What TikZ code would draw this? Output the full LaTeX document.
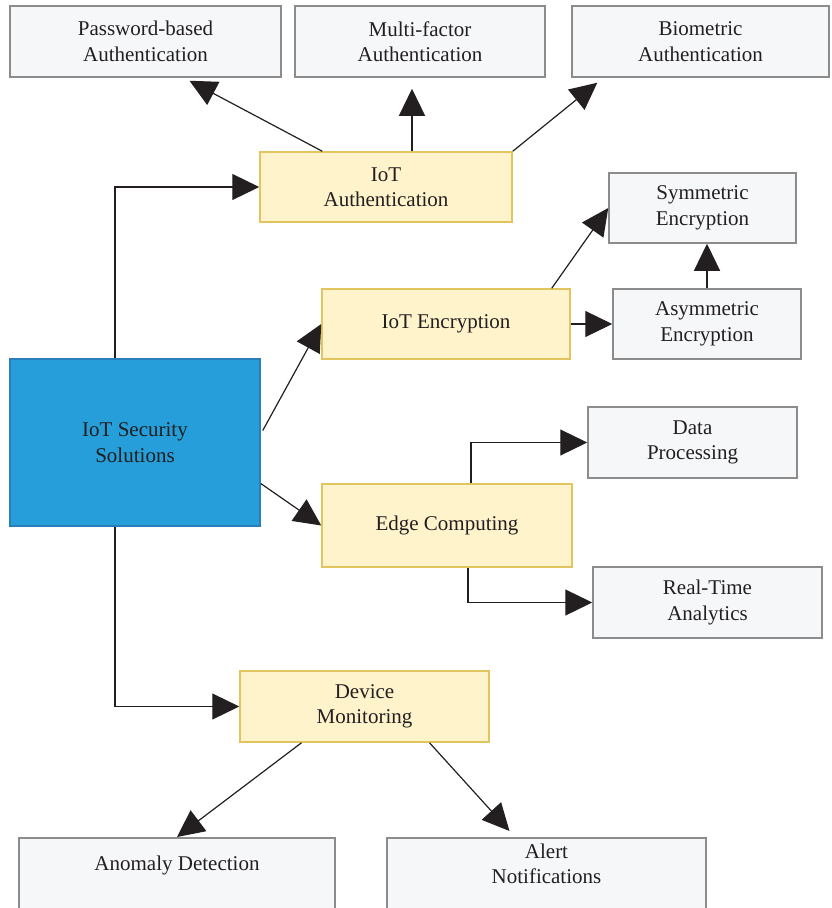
\documentclass[tikz,border=0pt]{standalone}
\usepackage{fontspec}
\setmainfont{Liberation Serif}
\usetikzlibrary{arrows.meta}
\definecolor{inkc}{HTML}{231F20}
\definecolor{grayfill}{HTML}{F6F7F9}
\definecolor{grayline}{HTML}{8C8C8C}
\definecolor{yelfill}{HTML}{FFF3CB}
\definecolor{yelline}{HTML}{E3C560}
\definecolor{bluefill}{HTML}{259ED9}
\definecolor{blueline}{HTML}{2A7FB8}
\begin{document}
\begin{tikzpicture}[x=1pt,y=-1pt,
		every node/.style={font=\fontsize{21}{25.5}\selectfont, text=inkc, align=center},
		gbox/.style={draw=grayline, fill=grayfill, line width=1.5pt, minimum height=71pt},
		ybox/.style={draw=yelline, fill=yelfill, line width=1.5pt, minimum height=70pt},
		cutbox/.style={gbox, anchor=north, text depth=80pt},
		link/.style={draw=inkc, line width=1.2pt, -{Triangle[length=27pt,width=26pt]}}]
	\useasboundingbox (0,0) rectangle (831,908);
	\clip (0,0) rectangle (831,908);
	% centre
	\node[draw=blueline, fill=bluefill, line width=1.5pt, minimum width=250pt, minimum height=167pt] (sol) at (135,442.5) {IoT Security\\Solutions};
	% authentication
	\node[ybox, minimum width=252pt] (auth) at (386,187) {IoT\\Authentication};
	\node[gbox, minimum width=271pt] (pwd) at (145.5,41.5) {Password-based\\Authentication};
	\node[gbox, minimum width=250pt] (mfa) at (420,41.5) {Multi-factor\\Authentication};
	\node[gbox, minimum width=257pt] (bio) at (700.5,41.5) {Biometric\\Authentication};
	% encryption
	\node[ybox, minimum width=248pt] (enc) at (446,324) {IoT Encryption};
	\node[gbox, minimum width=187pt, minimum height=70pt] (sym) at (702.5,208) {Symmetric\\Encryption};
	\node[gbox, minimum width=188pt, minimum height=70pt] (asym) at (707,324) {Asymmetric\\Encryption};
	% edge
	\node[ybox, minimum width=250pt, minimum height=83pt] (edge) at (447,525.5) {Edge Computing};
	\node[gbox, minimum width=209pt] (data) at (692.5,442.5) {Data\\Processing};
	\node[gbox, minimum width=229pt] (rta) at (707.5,602.5) {Real-Time\\Analytics};
	% monitoring
	\node[ybox, minimum width=249pt, minimum height=71pt] (mon) at (364.5,706.5) {Device\\Monitoring};
	\node[cutbox, minimum width=316pt, inner ysep=18pt] (ano) at (177,837) {Anomaly Detection};
	\node[cutbox, minimum width=319pt, inner ysep=6pt] (alert) at (546.5,837) {Alert\\Notifications};
	% connectors
	\draw[link] ([xshift=-20pt]sol.north) |- (auth.west);
	\draw[link] ([xshift=2pt,yshift=12pt]sol.east) -- (enc.west);
	\draw[link] ([yshift=-41pt]sol.east) -- (edge.west);
	\draw[link] ([xshift=-20pt]sol.south) |- (mon.west);
	\draw[link] ([xshift=63pt]auth.north west) -- ([xshift=44pt,yshift=-3pt]pwd.south);
	\draw[link] ([xshift=26pt]auth.north) -- ([xshift=-8pt,yshift=-11pt]mfa.south);
	\draw[link] (auth.north east) -- ([xshift=26pt,yshift=-5pt]bio.south west);
	\draw[link] ([xshift=-19pt]enc.north east) -- (sym.west);
	\draw[link] (enc.east) -- (asym.west);
	\draw[link] (asym.north) -- (asym.north |- sym.south);
	\draw[link] ([xshift=24pt]edge.north) |- (data.west);
	\draw[link] ([xshift=21pt]edge.south) |- (rta.west);
	\draw[link] ([xshift=-63pt]mon.south) -- (ano.north);
	\draw[link] ([xshift=65pt]mon.south) -- ([xshift=-37pt,yshift=6pt]alert.north);
\end{tikzpicture}
\end{document}
